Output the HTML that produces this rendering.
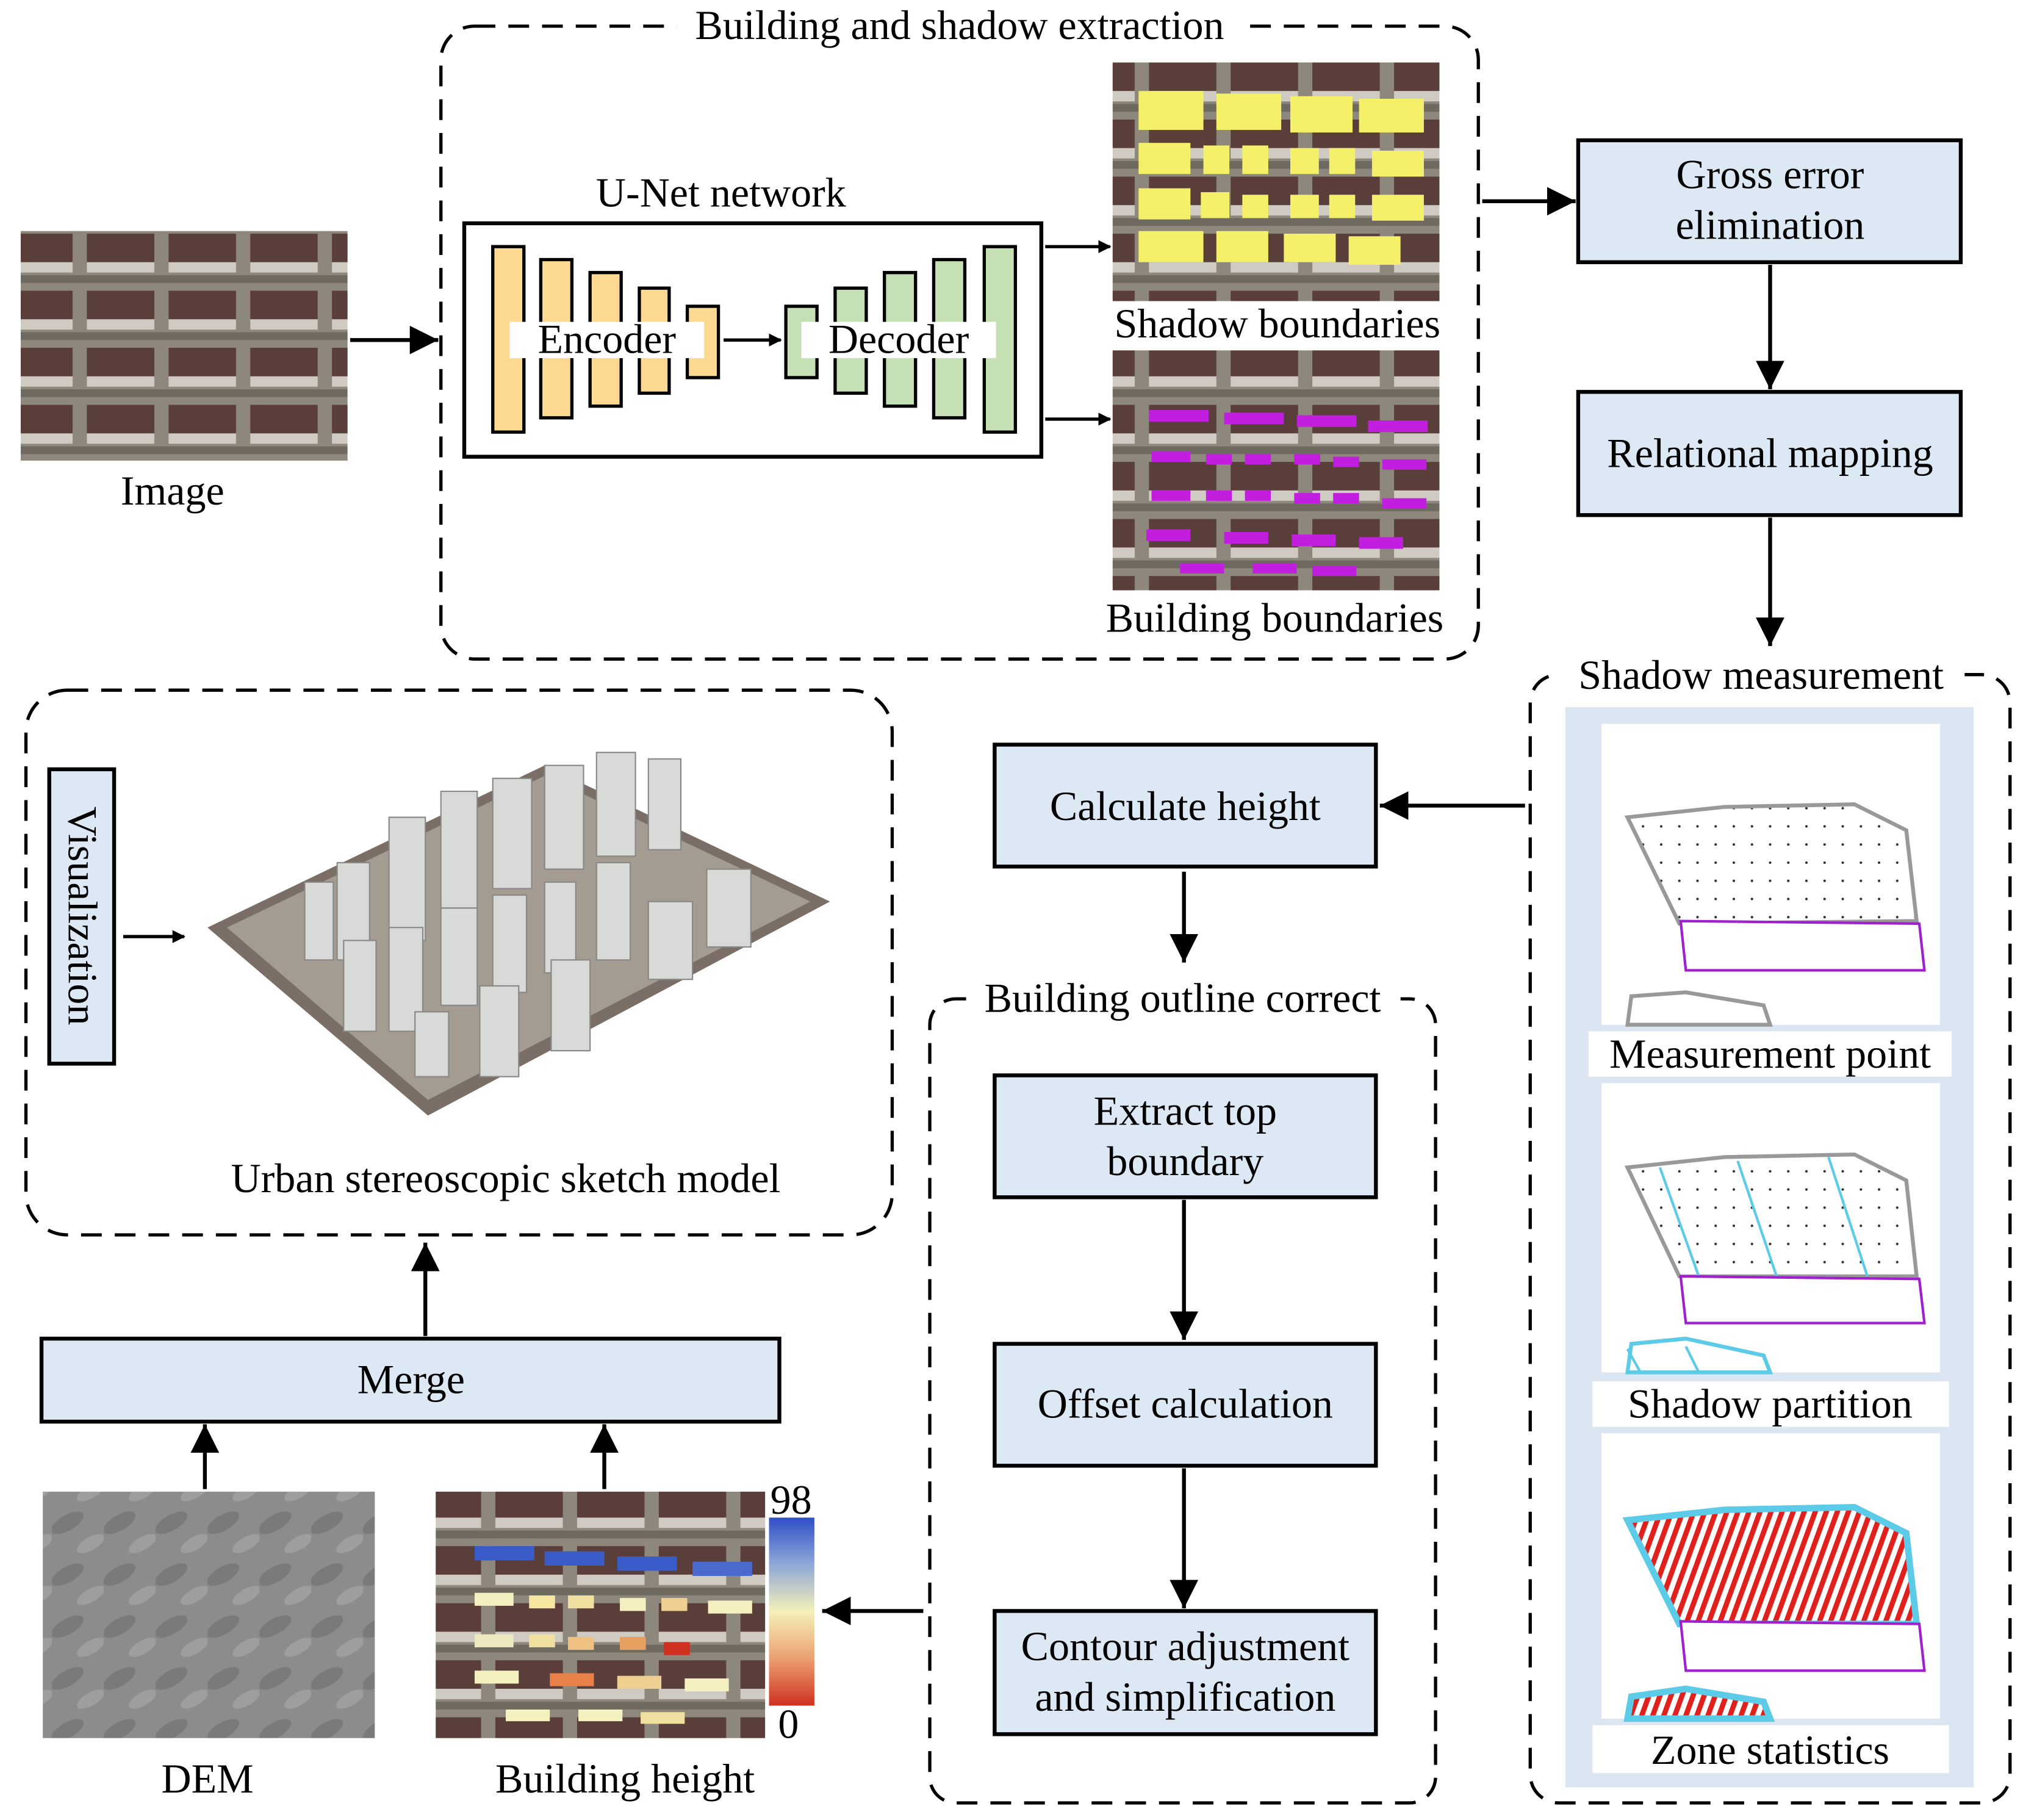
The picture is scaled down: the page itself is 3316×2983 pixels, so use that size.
<!DOCTYPE html>
<html><head><meta charset="utf-8"><style>
html,body{margin:0;padding:0;background:#fff;}
svg{display:block;}
text{font-family:"Liberation Serif",serif;font-size:32px;fill:#000;}
</style></head><body>
<svg width="3316" height="2983" viewBox="0 0 1560 1403" xmlns="http://www.w3.org/2000/svg">
<defs>
<marker id="ah" markerWidth="10" markerHeight="10" refX="9" refY="5" orient="auto" markerUnits="userSpaceOnUse" viewBox="0 0 10 10">
<path d="M0,0 L10,5 L0,10 Z" fill="#000"/></marker>
<marker id="a2" viewBox="0 0 10 10" refX="10" refY="5" markerWidth="22" markerHeight="22" orient="auto" markerUnits="userSpaceOnUse"><path d="M0,0 L10,5 L0,10 Z" fill="#000"/></marker>
<pattern id="city" width="63" height="44" patternUnits="userSpaceOnUse">
<rect width="63" height="44" fill="#8e877c"/>
<rect x="4" y="4" width="52" height="22" fill="#5a3e3a"/>
<rect x="4" y="26" width="52" height="8" fill="#cfcbc2"/>
<rect x="0" y="36" width="63" height="6" fill="#6f6a60"/>
</pattern>
<pattern id="dem" width="40" height="40" patternUnits="userSpaceOnUse">
<rect width="40" height="40" fill="#8c8c8c"/>
<ellipse cx="12" cy="14" rx="14" ry="6" fill="#7a7a7a" transform="rotate(-30 12 14)"/>
<ellipse cx="30" cy="30" rx="12" ry="5" fill="#9e9e9e" transform="rotate(-30 30 30)"/>
</pattern>
<pattern id="dots" width="14" height="14" patternUnits="userSpaceOnUse"><circle cx="7" cy="7" r="1" fill="#333"/></pattern>
<pattern id="red" width="8" height="8" patternUnits="userSpaceOnUse" patternTransform="rotate(20)"><rect width="8" height="8" fill="#fff"/><rect width="4" height="8" fill="#e0201c"/></pattern>
<linearGradient id="cb" x1="0" y1="0" x2="0" y2="1">
<stop offset="0" stop-color="#2f4fc8"/><stop offset="0.25" stop-color="#8fa8d8"/><stop offset="0.5" stop-color="#f5f0b8"/><stop offset="0.75" stop-color="#eba070"/><stop offset="1" stop-color="#d03020"/></linearGradient>
</defs>

<rect x="16" y="178" width="252" height="177" fill="url(#city)"/>
<text x="133" y="389" text-anchor="middle">Image</text>
<line x1="270" y1="262" x2="338" y2="262" stroke="#000" stroke-width="3" marker-end="url(#a2)"/>

<rect x="340" y="20" width="800" height="488" rx="26" fill="none" stroke="#000" stroke-width="2.5" stroke-dasharray="16,10"/>
<rect x="522" y="2" width="435" height="34" fill="#fff"/>
<text x="740" y="30" text-anchor="middle">Building and shadow extraction</text>
<text x="556" y="159" text-anchor="middle">U-Net network</text>
<rect x="358" y="172" width="445" height="180" fill="#fff" stroke="#000" stroke-width="3"/>
<g fill="#fdd992" stroke="#000" stroke-width="2.5">
<rect x="380" y="190" width="24" height="143"/><rect x="417" y="200" width="24" height="122"/><rect x="455" y="210" width="24" height="103"/><rect x="493" y="222" width="23" height="81"/><rect x="530" y="236" width="24" height="55"/>
</g>
<g fill="#c5e0b4" stroke="#000" stroke-width="2.5">
<rect x="606" y="236" width="24" height="55"/><rect x="644" y="222" width="24" height="81"/><rect x="682" y="210" width="24" height="103"/><rect x="720" y="200" width="24" height="122"/><rect x="759" y="190" width="24" height="143"/>
</g>
<rect x="393" y="248" width="150" height="28" fill="#fff"/>
<rect x="618" y="248" width="150" height="28" fill="#fff"/>
<text x="468" y="272" text-anchor="middle">Encoder</text>
<text x="693" y="272" text-anchor="middle">Decoder</text>
<line x1="558" y1="262" x2="602" y2="262" stroke="#000" stroke-width="2.5" marker-end="url(#ah)"/>
<line x1="806" y1="190" x2="856" y2="190" stroke="#000" stroke-width="2.5" marker-end="url(#ah)"/>
<line x1="806" y1="323" x2="856" y2="323" stroke="#000" stroke-width="2.5" marker-end="url(#ah)"/>

<rect x="858" y="48" width="252" height="184" fill="url(#city)"/>
<g fill="#f5f06a">
<rect x="878" y="70" width="50" height="30"/><rect x="938" y="72" width="50" height="28"/><rect x="995" y="74" width="48" height="28"/><rect x="1048" y="76" width="50" height="26"/>
<rect x="878" y="110" width="40" height="24"/><rect x="928" y="112" width="20" height="22"/><rect x="958" y="112" width="20" height="22"/><rect x="995" y="114" width="22" height="20"/><rect x="1025" y="114" width="20" height="20"/><rect x="1058" y="116" width="40" height="20"/>
<rect x="878" y="145" width="40" height="24"/><rect x="926" y="148" width="22" height="20"/><rect x="958" y="150" width="20" height="18"/><rect x="995" y="150" width="22" height="18"/><rect x="1025" y="150" width="20" height="18"/><rect x="1058" y="150" width="40" height="20"/>
<rect x="878" y="178" width="50" height="24"/><rect x="938" y="178" width="40" height="24"/><rect x="990" y="180" width="40" height="22"/><rect x="1040" y="182" width="40" height="22"/>
</g>
<text x="985" y="260" text-anchor="middle">Shadow boundaries</text>
<rect x="858" y="270" width="252" height="185" fill="url(#city)"/>
<g fill="#c21ee0">
<rect x="886" y="316" width="46" height="9"/><rect x="944" y="318" width="46" height="9"/><rect x="1000" y="320" width="46" height="9"/><rect x="1055" y="324" width="46" height="9"/>
<rect x="888" y="348" width="30" height="8"/><rect x="930" y="350" width="20" height="8"/><rect x="960" y="350" width="20" height="8"/><rect x="998" y="350" width="20" height="8"/><rect x="1028" y="352" width="20" height="8"/><rect x="1066" y="354" width="34" height="8"/>
<rect x="888" y="378" width="30" height="8"/><rect x="930" y="378" width="20" height="8"/><rect x="960" y="378" width="20" height="8"/><rect x="998" y="380" width="20" height="8"/><rect x="1028" y="380" width="20" height="8"/><rect x="1066" y="384" width="34" height="8"/>
<rect x="884" y="408" width="34" height="9"/><rect x="944" y="410" width="34" height="9"/><rect x="996" y="412" width="34" height="9"/><rect x="1048" y="414" width="34" height="9"/>
<rect x="910" y="434" width="34" height="8"/><rect x="966" y="434" width="34" height="8"/><rect x="1012" y="436" width="34" height="8"/>
</g>
<text x="983" y="487" text-anchor="middle">Building boundaries</text>

<line x1="1143" y1="155" x2="1215" y2="155" stroke="#000" stroke-width="3" marker-end="url(#a2)"/>
<g fill="#dde8f5" stroke="#000" stroke-width="3">
<rect x="1217" y="108" width="295" height="94"/>
<rect x="1217" y="302" width="295" height="95"/>
<rect x="767" y="574" width="294" height="94"/>
<rect x="767" y="829" width="294" height="94"/>
<rect x="767" y="1036" width="294" height="94"/>
<rect x="767" y="1242" width="294" height="95"/>
<rect x="32" y="1032" width="569" height="64"/>
<rect x="38" y="593" width="50" height="227"/>
</g>
<text x="1365" y="145" text-anchor="middle">Gross error</text>
<text x="1365" y="184" text-anchor="middle">elimination</text>
<line x1="1365" y1="204" x2="1365" y2="300" stroke="#000" stroke-width="3" marker-end="url(#a2)"/>
<text x="1365" y="360" text-anchor="middle">Relational mapping</text>
<line x1="1365" y1="399" x2="1365" y2="498" stroke="#000" stroke-width="3" marker-end="url(#a2)"/>

<rect x="1180" y="520" width="370" height="870" rx="22" fill="none" stroke="#000" stroke-width="2.5" stroke-dasharray="16,10"/>
<rect x="1200" y="502" width="315" height="36" fill="#fff"/>
<text x="1358" y="531" text-anchor="middle">Shadow measurement</text>
<rect x="1207" y="545" width="315" height="833" fill="#dce6f2"/>
<rect x="1235" y="558" width="261" height="232" fill="#fff"/>
<path d="M1255,630 L1330,622 L1430,620 L1470,640 L1478,710 L1295,712 Z" fill="url(#dots)" stroke="#999" stroke-width="3"/>
<path d="M1296,710 L1480,712 L1484,748 L1300,748 Z" fill="#fff" stroke="#a020d0" stroke-width="2"/>
<path d="M1255,790 L1258,768 L1300,765 L1360,775 L1365,790 Z" fill="none" stroke="#999" stroke-width="3"/>
<rect x="1225" y="795" width="280" height="35" fill="#fff"/>
<text x="1365" y="823" text-anchor="middle">Measurement point</text>
<rect x="1235" y="835" width="261" height="223" fill="#fff"/>
<path d="M1255,900 L1330,892 L1430,890 L1470,910 L1478,984 L1295,984 Z" fill="url(#dots)" stroke="#999" stroke-width="3"/>
<g stroke="#5ccbe8" stroke-width="2"><line x1="1280" y1="900" x2="1310" y2="984"/><line x1="1340" y1="895" x2="1370" y2="984"/><line x1="1410" y1="892" x2="1440" y2="984"/><line x1="1255" y1="1040" x2="1265" y2="1058"/><line x1="1300" y1="1038" x2="1310" y2="1058"/></g>
<path d="M1296,984 L1480,986 L1484,1020 L1300,1020 Z" fill="#fff" stroke="#a020d0" stroke-width="2"/>
<path d="M1255,1058 L1258,1036 L1300,1032 L1360,1045 L1365,1058 Z" fill="none" stroke="#5ccbe8" stroke-width="3"/>
<rect x="1228" y="1065" width="275" height="35" fill="#fff"/>
<text x="1365" y="1093" text-anchor="middle">Shadow partition</text>
<rect x="1235" y="1105" width="261" height="220" fill="#fff"/>
<path d="M1255,1172 L1330,1164 L1430,1162 L1470,1182 L1478,1252 L1295,1252 Z" fill="url(#red)" stroke="#5ccbe8" stroke-width="5"/>
<path d="M1296,1250 L1480,1252 L1484,1288 L1300,1288 Z" fill="#fff" stroke="#a020d0" stroke-width="2"/>
<path d="M1255,1325 L1258,1308 L1300,1302 L1360,1312 L1365,1325 Z" fill="url(#red)" stroke="#5ccbe8" stroke-width="5"/>
<rect x="1228" y="1330" width="275" height="37" fill="#fff"/>
<text x="1365" y="1360" text-anchor="middle">Zone statistics</text>

<line x1="1176" y1="621" x2="1064" y2="621" stroke="#000" stroke-width="3" marker-end="url(#a2)"/>
<text x="914" y="632" text-anchor="middle">Calculate height</text>
<line x1="913" y1="672" x2="913" y2="742" stroke="#000" stroke-width="3" marker-end="url(#a2)"/>

<rect x="717" y="770" width="390" height="620" rx="20" fill="none" stroke="#000" stroke-width="2.5" stroke-dasharray="16,10"/>
<rect x="745" y="752" width="335" height="36" fill="#fff"/>
<text x="912" y="780" text-anchor="middle">Building outline correct</text>
<text x="914" y="867" text-anchor="middle">Extract top</text>
<text x="914" y="906" text-anchor="middle">boundary</text>
<line x1="913" y1="925" x2="913" y2="1033" stroke="#000" stroke-width="3" marker-end="url(#a2)"/>
<text x="914" y="1093" text-anchor="middle">Offset calculation</text>
<line x1="913" y1="1132" x2="913" y2="1240" stroke="#000" stroke-width="3" marker-end="url(#a2)"/>
<text x="914" y="1280" text-anchor="middle">Contour adjustment</text>
<text x="914" y="1319" text-anchor="middle">and simplification</text>
<line x1="712" y1="1242" x2="634" y2="1242" stroke="#000" stroke-width="3" marker-end="url(#a2)"/>

<rect x="336" y="1150" width="254" height="190" fill="url(#city)"/>
<g>
<rect x="366" y="1192" width="46" height="11" fill="#3a5cc8"/><rect x="420" y="1196" width="46" height="11" fill="#3a5cc8"/><rect x="476" y="1200" width="46" height="11" fill="#3a5cc8"/><rect x="534" y="1204" width="46" height="11" fill="#4a6ad0"/>
<rect x="366" y="1228" width="30" height="10" fill="#f4f0c0"/><rect x="408" y="1230" width="20" height="10" fill="#f5e6a0"/><rect x="438" y="1230" width="20" height="10" fill="#f0e0a0"/><rect x="478" y="1232" width="20" height="10" fill="#f4f0c0"/><rect x="510" y="1232" width="20" height="10" fill="#f0d090"/><rect x="546" y="1234" width="34" height="10" fill="#f4f0c0"/>
<rect x="366" y="1260" width="30" height="10" fill="#eee8c0"/><rect x="408" y="1260" width="20" height="10" fill="#f0e0a0"/><rect x="438" y="1262" width="20" height="10" fill="#f0c080"/><rect x="478" y="1262" width="20" height="10" fill="#e8a060"/><rect x="512" y="1266" width="20" height="10" fill="#d03020"/>
<rect x="366" y="1288" width="34" height="10" fill="#f4f0c0"/><rect x="424" y="1290" width="34" height="10" fill="#e8804a"/><rect x="476" y="1292" width="34" height="10" fill="#f0d090"/><rect x="528" y="1294" width="34" height="10" fill="#f4f0c0"/>
<rect x="390" y="1318" width="34" height="9" fill="#f4f0c0"/><rect x="446" y="1318" width="34" height="9" fill="#f4f0c0"/><rect x="494" y="1320" width="34" height="9" fill="#f0e0a0"/>
</g>
<rect x="593" y="1170" width="35" height="145" fill="url(#cb)"/>
<text x="610" y="1167" text-anchor="middle">98</text>
<text x="608" y="1340" text-anchor="middle">0</text>
<text x="482" y="1382" text-anchor="middle">Building height</text>
<rect x="33" y="1150" width="256" height="190" fill="url(#dem)"/>
<text x="160" y="1382" text-anchor="middle">DEM</text>
<line x1="158" y1="1148" x2="158" y2="1098" stroke="#000" stroke-width="3" marker-end="url(#a2)"/>
<line x1="466" y1="1148" x2="466" y2="1098" stroke="#000" stroke-width="3" marker-end="url(#a2)"/>
<text x="317" y="1074" text-anchor="middle">Merge</text>
<line x1="328" y1="1030" x2="328" y2="958" stroke="#000" stroke-width="3" marker-end="url(#a2)"/>

<rect x="20" y="532" width="668" height="420" rx="32" fill="none" stroke="#000" stroke-width="2.5" stroke-dasharray="16,10"/>
<text x="0" y="0" transform="translate(53,706) rotate(90)" text-anchor="middle">Visualization</text>
<line x1="95" y1="722" x2="142" y2="722" stroke="#000" stroke-width="2.5" marker-end="url(#ah)"/>
<polygon points="160,715 420,590 640,695 330,860" fill="#7a6e66"/>
<polygon points="175,715 420,598 625,695 330,848" fill="#a49c90"/>
<g fill="#d8dad8" stroke="#888" stroke-width="1">
<rect x="235" y="680" width="22" height="60"/><rect x="260" y="665" width="25" height="75"/><rect x="300" y="630" width="28" height="95"/><rect x="340" y="610" width="28" height="90"/><rect x="380" y="600" width="30" height="85"/><rect x="420" y="590" width="30" height="80"/><rect x="460" y="580" width="30" height="80"/><rect x="500" y="585" width="25" height="70"/>
<rect x="265" y="725" width="25" height="70"/><rect x="300" y="715" width="26" height="80"/><rect x="340" y="700" width="28" height="75"/><rect x="380" y="690" width="26" height="75"/><rect x="420" y="680" width="24" height="70"/><rect x="460" y="665" width="26" height="75"/><rect x="500" y="695" width="34" height="60"/><rect x="545" y="670" width="34" height="60"/>
<rect x="370" y="760" width="30" height="70"/><rect x="425" y="740" width="30" height="70"/><rect x="320" y="780" width="26" height="50"/>
</g>
<text x="390" y="919" text-anchor="middle">Urban stereoscopic sketch model</text>
</svg>
</body></html>
